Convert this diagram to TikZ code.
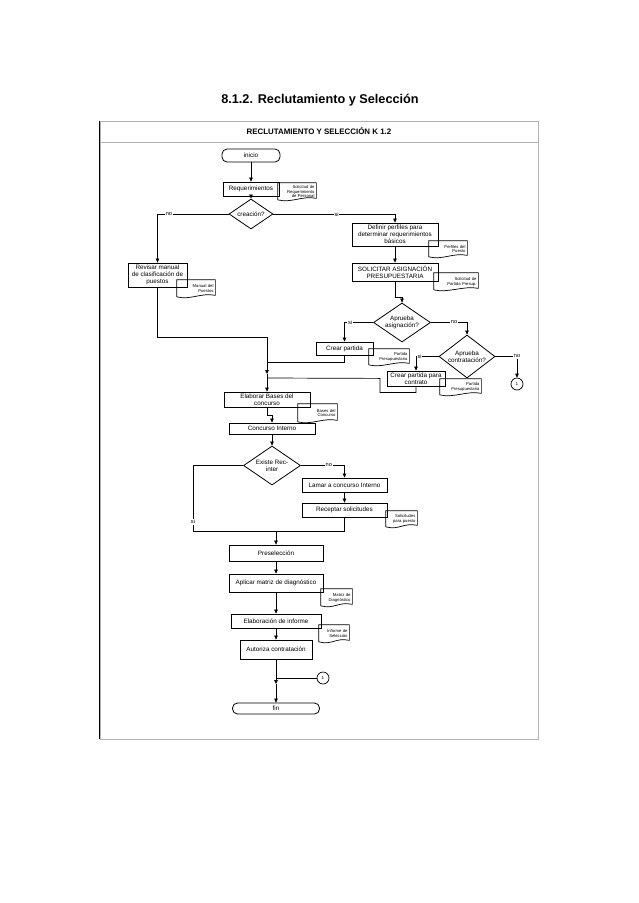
\documentclass[tikz,border=0pt]{standalone}
\usepackage{fontspec}
\setmainfont{Liberation Sans}
\usetikzlibrary{shapes.geometric,arrows.meta}

\begin{document}
\begin{tikzpicture}[x=1pt, y=-1pt, line width=0.7pt,
		>={Triangle[length=4pt,width=3.6pt]}]
		\tikzstyle{proc}=[rectangle, draw=black, line width=0.8pt, fill=white,
		inner sep=1pt, align=center, font=\fontsize{6.3}{6.9}\selectfont]
		\tikzstyle{term}=[proc, rounded corners=5pt]
		\tikzstyle{decision}=[diamond, aspect=1.3, draw=black, line width=0.8pt,
		fill=white, inner sep=0pt, align=center, font=\fontsize{6.3}{6.9}\selectfont]
		\tikzstyle{docu}=[inner xsep=1.5pt, inner ysep=0.5pt, align=right,
		font=\fontsize{4.2}{4.9}\selectfont]
		\tikzstyle{docline}=[line width=0.7pt]
		\tikzstyle{link}=[circle, draw=black, line width=0.7pt, fill=white,
		minimum size=12pt, inner sep=0pt, font=\fontsize{4.6}{5}\selectfont]
		\tikzstyle{lbl}=[fill=white, inner sep=0.8pt, font=\fontsize{5.6}{6}\selectfont]
		\tikzstyle{arr}=[->]

		\useasboundingbox (0,0) rectangle (638,903);

		% Title and frame
		\node[font=\bfseries\fontsize{12.7}{14}\selectfont] (titulo) at (320,100) {8.1.2. Reclutamiento y Selección};
		\node[draw=gray!60, minimum width=438, minimum height=618, inner sep=0pt] (marco) at (319,430) {};
		\draw[line width=1pt] (marco.north west) -- (marco.south west);
		\node[draw=gray!60, minimum width=438, minimum height=21, inner sep=0pt,
		font=\bfseries\fontsize{7.9}{9}\selectfont] (cab) at (319,131.5) {RECLUTAMIENTO Y SELECCIÓN K 1.2};

		\node[term, minimum width=58, minimum height=13] (inicio) at (251,155.5) {inicio};
		\node[proc, minimum width=56, minimum height=14] (req) at (251,189) {Requerimientos};
		\node[docu, text width=35, minimum height=17] (dreq) at (297,191.5) {Solicitud de\\Requerimiento\\de Personal};
		\node[decision, minimum width=44, minimum height=30] (crea) at (251,214) {creación?};

		\node[proc, minimum width=86, minimum height=23] (def) at (395,234.5) {Definir perfiles para\\determinar requerimientos\\básicos};
		\node[docu, text width=35, minimum height=16] (dperf) at (448,249) {Perfiles del\\Puesto};
		\node[proc, minimum width=86, minimum height=18] (sol) at (395,272) {SOLICITAR ASIGNACIÓN\\PRESUPUESTARIA};
		\node[docu, text width=41, minimum height=17] (dsol) at (456,281.5) {Solicitud de\\Partida Presup.};

		\node[proc, minimum width=59, minimum height=24] (rev) at (157.5,275) {Revisar manual\\de clasificación de\\puestos};
		\node[docu, text width=35, minimum height=17] (dman) at (196,288.5) {Manual del\\Puestos};

		\node[decision, minimum width=57, minimum height=39] (apr) at (402,322.5) {Aprueba\\asignación?};
		\node[proc, minimum width=57, minimum height=13] (cp) at (344.5,348.5) {Crear partida};
		\node[docu, text width=37, minimum height=16] (dpart) at (389,357) {Partida\\Presupuestaria};
		\node[decision, minimum width=56, minimum height=43] (ac) at (467,356.5) {Aprueba\\contratación?};
		\node[link] (c1) at (517,384) {1};
		\node[proc, minimum width=58, minimum height=15] (cpc) at (416,378.5) {Crear partida para\\contrato};
		\node[docu, text width=38, minimum height=16] (dpart2) at (460.5,387) {Partida\\Presupuestaria};

		\node[proc, minimum width=86, minimum height=15] (bases) at (267,399.5) {Elaborar Bases del\\concurso};
		\node[docu, text width=36, minimum height=18] (dbases) at (317.5,413) {Bases del\\Concurso};
		\node[proc, minimum width=86, minimum height=11] (ci) at (272,428.5) {Concurso Interno};
		\node[decision, minimum width=57, minimum height=39] (ex) at (272,465.5) {Existe Rec-\\inter};
		\node[proc, minimum width=85, minimum height=14] (lam) at (344.5,485) {Lamar a concurso Interno};
		\node[proc, minimum width=85, minimum height=14] (rec) at (344.5,510) {Receptar solicitudes};
		\node[docu, text width=28, minimum height=16] (dsolic) at (401.5,519) {Solicitudes\\para puesto};

		\node[proc, minimum width=94, minimum height=16] (pre) at (276,553) {Preselección};
		\node[proc, minimum width=94, minimum height=18] (apl) at (276,583) {Aplicar matriz de diagnóstico};
		\node[docu, text width=28, minimum height=17] (dmat) at (336.5,597.5) {Matriz de\\Diagnóstico};
		\node[proc, minimum width=90, minimum height=14] (inf) at (276,621) {Elaboración de informe};
		\node[docu, text width=27, minimum height=17] (dinf) at (334,633.5) {Informe de\\Selección};
		\node[proc, minimum width=72, minimum height=19] (aut) at (276,649.5) {Autoriza contratación};
		\node[link] (c2) at (323,678) {1};
		\node[term, minimum width=87, minimum height=11] (fin) at (276,708.5) {fin};

		% Junctions
		\coordinate (j1) at (267,374);
		\coordinate (jcp) at (267,362);
		\coordinate (jcpc) at (267,378);
		\coordinate (jl) at (193,531);
		\coordinate (jpre) at (276,531);
		\coordinate (j3) at (276,684);

		% Documents
		\foreach \d in {dreq,dperf,dsol,dman,dpart,dpart2,dbases,dsolic,dmat,dinf}
		\draw[docline] ([yshift=0.5pt]\d.south west) -- (\d.north west) -- (\d.north east)
		-- ([yshift=2pt]\d.south east) .. controls +(-14pt,3pt) and +(14pt,-3.5pt) .. ([yshift=0.5pt]\d.south west);

		% Upper connections
		\draw[arr] (inicio) -- (req);
		\draw[arr] (req) -- (crea);
		\draw[arr] (crea.west) -| node[lbl, pos=0.42] {no} (rev.north);
		\draw[arr] (crea.east) -| node[lbl, pos=0.26] {si} (def.north);
		\draw[arr] (def) -- (sol);
		\draw[arr] (sol.south) -- ++(0,16) -| (apr.north);
		\draw[arr] (apr.west) -| node[lbl, pos=0.4] {si} (cp.north);
		\draw[arr] (apr.east) -| node[lbl, pos=0.32] {no} (ac.north);
		\draw[arr] (ac.west) -| node[lbl, pos=0.42] {si} (cpc.north);
		\draw[arr] (ac.east) -| node[lbl, pos=0.5] {no} (c1.north);

		% Merge into bases
		\draw[arr] (rev.south) -- ++(0,50) -| (j1);
		\draw (cp.south) |- (jcp);
		\draw (cpc.south) -- ++(0,6) -- ++(-36,0) -- ++(0,-14) -- (jcpc);
		\draw[arr] (j1) -- (bases.north);

		% Lower connections
		\draw[arr] (bases.south) -- ++(0,8) -| (ci.north);
		\draw[arr] (ci) -- (ex);
		\draw[arr] (ex.east) -| node[lbl, pos=0.32] {no} (lam.north);
		\draw[arr] (lam) -- (rec);
		\draw (ex.west) -| node[lbl, pos=0.93] {si} (jl);
		\draw (rec.south) |- (jl);
		\draw[arr] (jpre) -- (pre);
		\draw[arr] (pre) -- (apl);
		\draw[arr] (apl) -- (inf);
		\draw[arr] (inf) -- (aut);
		\draw[arr] (aut) -- (j3);
		\draw[arr] (j3) -- (fin);
		\draw (c2) -- (c2 -| aut);

\end{tikzpicture}
\end{document}
